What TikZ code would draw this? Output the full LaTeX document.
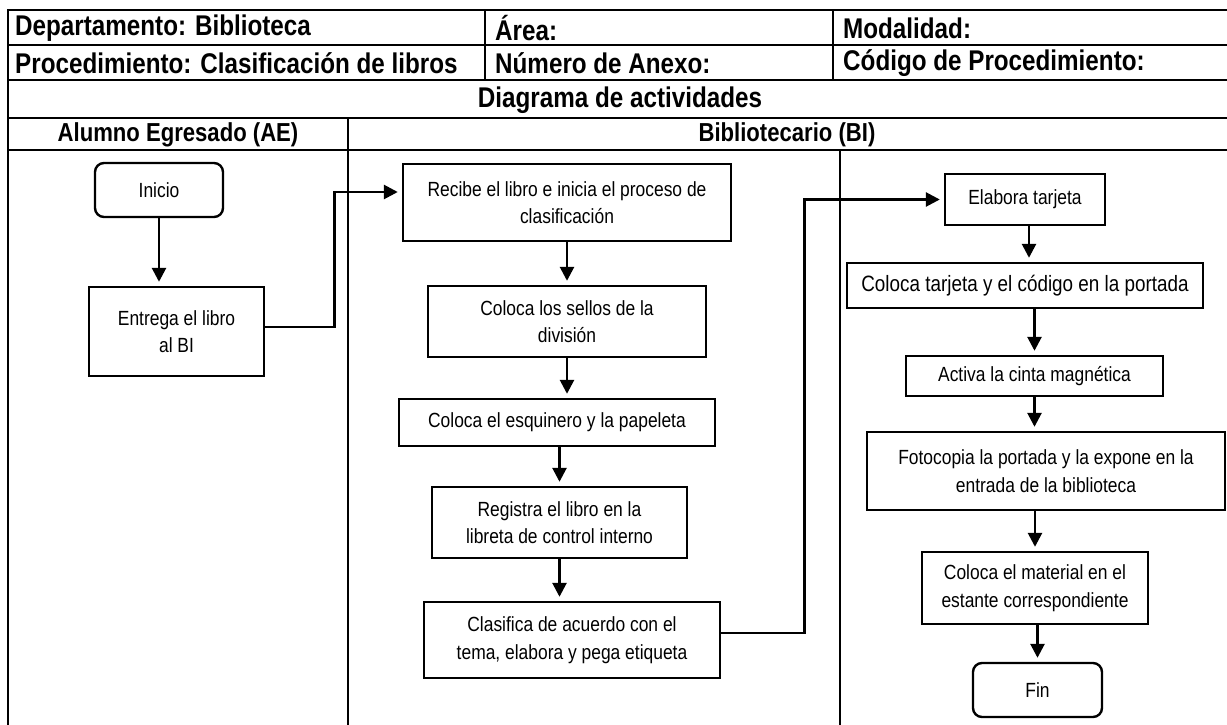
\documentclass[tikz,border=0pt]{standalone}
\usepackage{fontspec}
\setmainfont{Liberation Sans}[FakeStretch=0.85]
\usetikzlibrary{arrows.meta}
\begin{document}
\begin{tikzpicture}[x=1pt,y=-1pt,
  rule/.style={line width=2.6pt},
  hd/.style={anchor=west,inner sep=0pt,font=\fontsize{28.5}{30}\selectfont\bfseries},
  hdc/.style={hd,anchor=center},
  lane/.style={anchor=center,inner sep=0pt,font=\fontsize{26}{28}\selectfont\bfseries},
  act/.style={draw,line width=2.4pt,rectangle,align=center,inner sep=0pt,
    font=\fontsize{20.5}{27.5}\selectfont},
  term/.style={act,rounded corners=9pt},
  arr/.style={line width=2.7pt,-{Triangle[width=14pt,length=14pt]},shorten >=4pt},
  link/.style={arr,rounded corners=0pt}]
\useasboundingbox (0,0) rectangle (1227,725);
\fill[white] (0,0) rectangle (1227,725);

% table frame and rules
\draw[rule] (1227,10) -- (8,10) -- (8,725);
\foreach \yy in {45,80,118,150} \draw[rule] (8,\yy) -- (1227,\yy);
\draw[rule] (485,10) -- (485,80);
\draw[rule] (833,10) -- (833,80);
\draw[rule] (348,118) -- (348,725);
\draw[rule] (840,150) -- (840,725);

% header texts
\node[hd] (dep) at (15,28.5) {Departamento: Biblioteca};
\node[hd] (area) at (495,28.5) {Área:};
\node[hd] (mod) at (843,28.5) {Modalidad:};
\node[hd] (proc) at (15,63.5) {Procedimiento: Clasificación de libros};
\node[hd] (anx) at (495,63.5) {Número de Anexo:};
\node[hd] (cod) at (843,63.5) {Código de Procedimiento:};
\node[hdc] (diag) at (620,100) {Diagrama de actividades};
\node[lane] (ae) at (178,135) {Alumno Egresado (AE)};
\node[lane] (bi) at (787,135) {Bibliotecario (BI)};

% activities
\node[term, minimum width=128pt, minimum height=54pt] (ini) at (159,190) {Inicio};
\node[act, minimum width=175pt, minimum height=89pt] (ent) at (176.5,331.5) {Entrega el libro\\al BI};
\node[act, minimum width=328pt, minimum height=77pt] (rec) at (567,202.5) {Recibe el libro e inicia el proceso de\\clasificación};
\node[act, minimum width=278pt, minimum height=71pt] (sel) at (567,321.5) {Coloca los sellos de la\\división};
\node[act, minimum width=316pt, minimum height=47pt] (esq) at (557,422.5) {Coloca el esquinero y la papeleta};
\node[act, minimum width=255pt, minimum height=71pt] (reg) at (559.5,522.5) {Registra el libro en la\\libreta de control interno};
\node[act, minimum width=296pt, minimum height=76pt] (cla) at (572,640) {Clasifica de acuerdo con el\\tema, elabora y pega etiqueta};
\node[act, minimum width=160pt, minimum height=51pt] (ela) at (1025,199.5) {Elabora tarjeta};
\node[act, minimum width=356pt, minimum height=45pt, font=\fontsize{22.2}{27.5}\selectfont] (tar) at (1025,285.5) {Coloca tarjeta y el código en la portada};
\node[act, minimum width=257pt, minimum height=40pt] (mag) at (1034.5,376) {Activa la cinta magnética};
\node[act, minimum width=358pt, minimum height=78pt] (fot) at (1046,471) {Fotocopia la portada y la expone en la\\entrada de la biblioteca};
\node[act, minimum width=226pt, minimum height=72pt] (mat) at (1035,588) {Coloca el material en el\\estante correspondiente};
\node[term, minimum width=129pt, minimum height=54pt] (fin) at (1037.5,690) {Fin};

% flow
\draw[arr] (ini.south) -- (ini.south |- ent.north);
\draw[link] ([yshift=4.5pt]ent.east) -- ++(69,0) |- ([yshift=10.5pt]rec.west);
\draw[arr] (rec.south) -- (rec.south |- sel.north);
\draw[arr] (sel.south) -- (sel.south |- esq.north);
\draw[arr] (reg.north |- esq.south) -- (reg.north);
\draw[arr] (reg.south) -- (reg.south |- cla.north);
\draw[link] ([yshift=7pt]cla.east) -- ++(83,0) |- (ela.west);
\draw[arr] ([xshift=4pt]ela.south) -- ([xshift=4pt]ela.south |- tar.north);
\draw[arr] (mag.north |- tar.south) -- (mag.north);
\draw[arr] (mag.south) -- (mag.south |- fot.north);
\draw[arr] (mat.north |- fot.south) -- (mat.north);
\draw[arr] (fin.north |- mat.south) -- (fin.north);
\end{tikzpicture}
\end{document}
